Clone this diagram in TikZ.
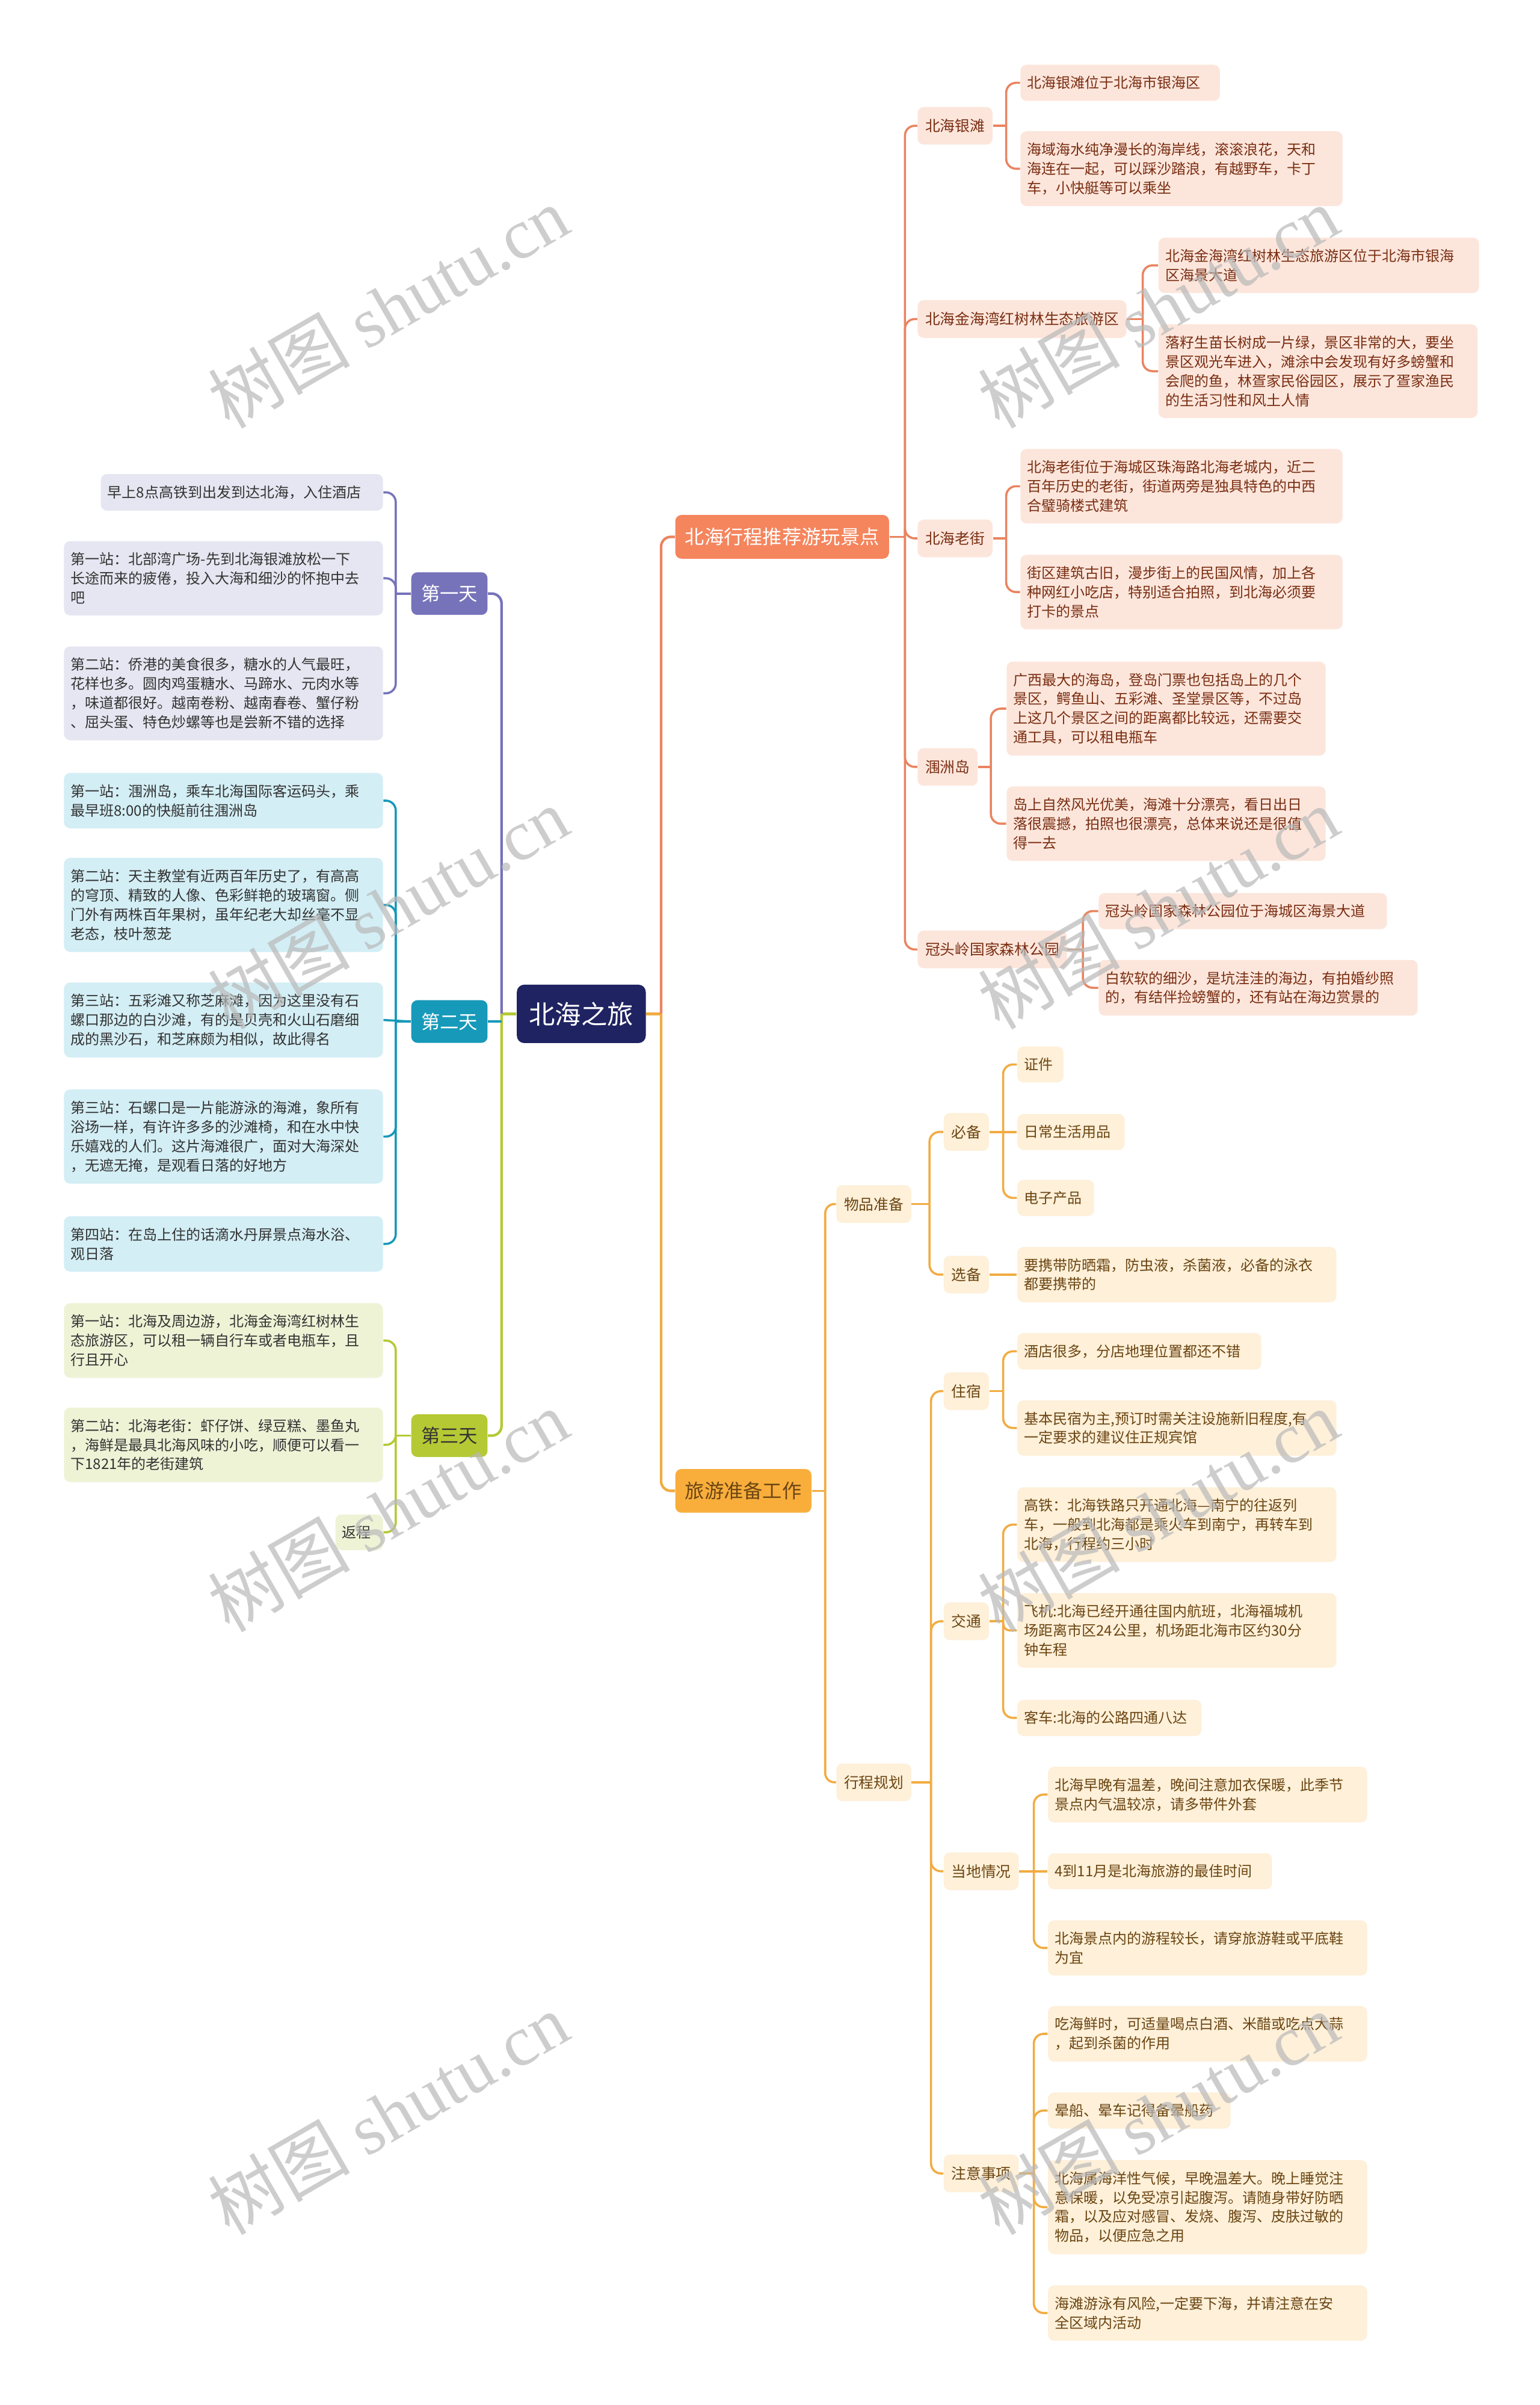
\documentclass[tikz,border=0pt]{standalone}
\usepackage{fontspec}
\setmainfont{Noto Sans CJK SC}
\newfontfamily\wmserif{Liberation Serif}
\definecolor{cRoot}{HTML}{1F2361}
\definecolor{cD1}{HTML}{7673BA}
\definecolor{cD1l}{HTML}{E6E6F2}
\definecolor{cD2}{HTML}{1799B9}
\definecolor{cD2l}{HTML}{D3EEF5}
\definecolor{cD3}{HTML}{B5C934}
\definecolor{cD3l}{HTML}{EFF3D6}
\definecolor{cG1}{HTML}{F5855D}
\definecolor{cG1line}{HTML}{EA8460}
\definecolor{cG1l}{HTML}{FCE6DC}
\definecolor{cG1t}{HTML}{7A2E12}
\definecolor{cG2}{HTML}{F9AE3C}
\definecolor{cG2line}{HTML}{F1AC42}
\definecolor{cG2l}{HTML}{FEF0D9}
\definecolor{cG2t}{HTML}{6B4512}
\definecolor{cText}{HTML}{333333}
\newcommand\fanR[5][1.6mm]{%
  \draw[#2] (#3.east) -- (#3.east -| #4);
  \foreach \c in {#5}{\draw[#2,rounded corners=#1] (#3.east -| #4) |- (\c.west);}%
}
\newcommand\fanL[5][1.6mm]{%
  \draw[#2] (#3.west) -- (#3.west -| #4);
  \foreach \c in {#5}{\draw[#2,rounded corners=#1] (#3.west -| #4) |- (\c.east);}%
}
\begin{document}
\begin{tikzpicture}[x=0.25mm,y=-0.25mm,
  box/.style={rounded corners=1mm, inner xsep=1.1mm, inner ysep=1.85mm, align=left, font=\fontsize{6.7}{8.9}\selectfont},
  subbox/.style={rounded corners=1mm, inner xsep=1.25mm, inner ysep=1.95mm, font=\fontsize{6.9}{8.9}\selectfont},
  lfD1/.style={box, fill=cD1l, text=cText, anchor=east},
  lfD2/.style={box, fill=cD2l, text=cText, anchor=east},
  lfD3/.style={box, fill=cD3l, text=cText, anchor=east},
  lfG1/.style={box, fill=cG1l, text=cG1t, anchor=west},
  lfG2/.style={box, fill=cG2l, text=cG2t, anchor=west},
  sbG1/.style={subbox, fill=cG1l, text=cG1t, anchor=west},
  sbG2/.style={subbox, fill=cG2l, text=cG2t, anchor=west},
  daybox/.style={rounded corners=1mm, inner xsep=1.6mm, inner ysep=2.05mm, font=\fontsize{8.75}{10}\selectfont},
  mainbox/.style={rounded corners=1mm, inner xsep=1.6mm, inner ysep=2.1mm, font=\fontsize{9}{10}\selectfont, anchor=west},
  rootbox/.style={rounded corners=1.2mm, inner xsep=2mm, inner ysep=2.8mm, font=\fontsize{12.1}{14}\selectfont, fill=cRoot, text=white},
  ln/.style={line width=0.35mm},
  lnm/.style={line width=0.42mm},
  lnD1/.style={ln, draw=cD1},
  lnD2/.style={ln, draw=cD2},
  lnD3/.style={ln, draw=cD3},
  lnG1/.style={ln, draw=cG1line},
  lnG2/.style={ln, draw=cG2line},
  wm/.style={text=gray!55, opacity=0.7, rotate=30, font=\fontsize{33}{36}\selectfont}
]
\fill[white] (0,0) rectangle (1004,1568);
\useasboundingbox (0,0) rectangle (1004,1568);

% trunk x positions
\coordinate (tL) at (327,0);
\coordinate (tLd) at (258,0);
\coordinate (tR) at (431,0);
\coordinate (tM1) at (590,0);
\coordinate (tM2) at (538,0);
\coordinate (t11) at (656,0);
\coordinate (t12) at (745,0);
\coordinate (t13) at (656,0);
\coordinate (t14) at (646,0);
\coordinate (t15) at (706,0);
\coordinate (t21) at (606,0);
\coordinate (t211) at (654,0);
\coordinate (t22) at (607,0);
\coordinate (t221) at (654,0);
\coordinate (t222) at (654,0);
\coordinate (t223) at (674,0);
\coordinate (t224) at (674,0);

% root
\node[rootbox] (root) at (379,661) {北海之旅};

% days
\node[daybox, fill=cD1, text=white] (d1) at (293,387) {第一天};
\node[daybox, fill=cD2, text=white] (d2) at (293,666) {第二天};
\node[daybox, fill=cD3, text=cText] (d3) at (293,936) {第三天};

% day 1 leaves
\node[lfD1, text width=43.8mm] (l1a) at (250,321) {早上8点高铁到出发到达北海，入住酒店};
\node[lfD1, text width=49.8mm] (l1b) at (250,377) {第一站：北部湾广场-先到北海银滩放松一下\\长途而来的疲倦，投入大海和细沙的怀抱中去\\吧};
\node[lfD1, text width=49.8mm] (l1c) at (250,452) {第二站：侨港的美食很多，糖水的人气最旺，\\花样也多。圆肉鸡蛋糖水、马蹄水、元肉水等\\，味道都很好。越南卷粉、越南春卷、蟹仔粉\\、屈头蛋、特色炒螺等也是尝新不错的选择};

% day 2 leaves
\node[lfD2, text width=49.8mm] (l2a) at (250,522) {第一站：涠洲岛，乘车北海国际客运码头，乘\\最早班8:00的快艇前往涠洲岛};
\node[lfD2, text width=49.8mm] (l2b) at (250,590) {第二站：天主教堂有近两百年历史了，有高高\\的穹顶、精致的人像、色彩鲜艳的玻璃窗。侧\\门外有两株百年果树，虽年纪老大却丝毫不显\\老态，枝叶葱茏};
\node[lfD2, text width=49.8mm] (l2c) at (250,665) {第三站：五彩滩又称芝麻滩，因为这里没有石\\螺口那边的白沙滩，有的是贝壳和火山石磨细\\成的黑沙石，和芝麻颇为相似，故此得名};
\node[lfD2, text width=49.8mm] (l2d) at (250,741) {第三站：石螺口是一片能游泳的海滩，象所有\\浴场一样，有许许多多的沙滩椅，和在水中快\\乐嬉戏的人们。这片海滩很广，面对大海深处\\，无遮无掩，是观看日落的好地方};
\node[lfD2, text width=49.8mm] (l2e) at (250,811) {第四站：在岛上住的话滴水丹屏景点海水浴、\\观日落};

% day 3 leaves
\node[lfD3, text width=49.8mm] (l3a) at (250,874) {第一站：北海及周边游，北海金海湾红树林生\\态旅游区，可以租一辆自行车或者电瓶车，且\\行且开心};
\node[lfD3, text width=49.8mm] (l3b) at (250,942) {第二站：北海老街：虾仔饼、绿豆糕、墨鱼丸\\，海鲜是最具北海风味的小吃，顺便可以看一\\下1821年的老街建筑};
\node[lfD3, text width=5.55mm] (l3c) at (250,999) {返程};

% main right branches
\node[mainbox, fill=cG1, text=white] (m1) at (440,350) {北海行程推荐游玩景点};
\node[mainbox, fill=cG2, text=cG2t] (m2) at (440,972) {旅游准备工作};

% group 1 level 2
\node[sbG1] (s11) at (598,82) {北海银滩};
\node[sbG1] (s12) at (598,208) {北海金海湾红树林生态旅游区};
\node[sbG1] (s13) at (598,351) {北海老街};
\node[sbG1] (s14) at (598,500) {涠洲岛};
\node[sbG1] (s15) at (598,619) {冠头岭国家森林公园};

% group 1 leaves
\node[lfG1, text width=30.3mm] (r11a) at (665,54) {北海银滩位于北海市银海区};
\node[lfG1, text width=50.3mm] (r11b) at (665,110) {海域海水纯净漫长的海岸线，滚滚浪花，天和\\海连在一起，可以踩沙踏浪，有越野车，卡丁\\车，小快艇等可以乘坐};
\node[lfG1, text width=50.05mm] (r12a) at (755,173) {北海金海湾红树林生态旅游区位于北海市银海\\区海景大道};
\node[lfG1, text width=49.8mm] (r12b) at (755,242) {落籽生苗长树成一片绿，景区非常的大，要坐\\景区观光车进入，滩涂中会发现有好多螃蟹和\\会爬的鱼，林疍家民俗园区，展示了疍家渔民\\的生活习性和风土人情};
\node[lfG1, text width=50.3mm] (r13a) at (665,317) {北海老街位于海城区珠海路北海老城内，近二\\百年历史的老街，街道两旁是独具特色的中西\\合璧骑楼式建筑};
\node[lfG1, text width=50.3mm] (r13b) at (665,386) {街区建筑古旧，漫步街上的民国风情，加上各\\种网红小吃店，特别适合拍照，到北海必须要\\打卡的景点};
\node[lfG1, text width=49.8mm] (r14a) at (656,462) {广西最大的海岛，登岛门票也包括岛上的几个\\景区，鳄鱼山、五彩滩、圣堂景区等，不过岛\\上这几个景区之间的距离都比较远，还需要交\\通工具，可以租电瓶车};
\node[lfG1, text width=49.8mm] (r14b) at (656,537) {岛上自然风光优美，海滩十分漂亮，看日出日\\落很震撼，拍照也很漂亮，总体来说还是很值\\得一去};
\node[lfG1, text width=44.8mm] (r15a) at (716,594) {冠头岭国家森林公园位于海城区海景大道};
\node[lfG1, text width=49.8mm] (r15b) at (716,644) {白软软的细沙，是坑洼洼的海边，有拍婚纱照\\的，有结伴捡螃蟹的，还有站在海边赏景的};

% group 2 level 2 / 3
\node[sbG2] (s21) at (545,785) {物品准备};
\node[sbG2] (s22) at (545,1162) {行程规划};
\node[sbG2] (s211) at (615,738) {必备};
\node[sbG2] (s212) at (615,831) {选备};
\node[sbG2] (s221) at (615,907) {住宿};
\node[sbG2] (s222) at (615,1057) {交通};
\node[sbG2] (s223) at (615,1220) {当地情况};
\node[sbG2] (s224) at (615,1417) {注意事项};

% group 2 leaves
\node[lfG2, text width=5.3mm] (g1) at (663,694) {证件};
\node[lfG2, text width=15.3mm] (g2) at (663,738) {日常生活用品};
\node[lfG2, text width=10.3mm] (g3) at (663,781) {电子产品};
\node[lfG2, text width=49.8mm] (g4) at (663,831) {要携带防晒霜，防虫液，杀菌液，必备的泳衣\\都要携带的};
\node[lfG2, text width=37.55mm] (h1) at (663,881) {酒店很多，分店地理位置都还不错};
\node[lfG2, text width=49.8mm] (h2) at (663,931) {基本民宿为主,预订时需关注设施新旧程度,有\\一定要求的建议住正规宾馆};
\node[lfG2, text width=49.8mm] (j1) at (663,994) {高铁：北海铁路只开通北海—南宁的往返列\\车，一般到北海都是乘火车到南宁，再转车到\\北海，行程约三小时};
\node[lfG2, text width=49.8mm] (j2) at (663,1063) {飞机:北海已经开通往国内航班，北海福城机\\场距离市区24公里，机场距北海市区约30分\\钟车程};
\node[lfG2, text width=27.8mm] (j3) at (663,1120) {客车:北海的公路四通八达};
\node[lfG2, text width=49.8mm] (k1) at (683,1170) {北海早晚有温差，晚间注意加衣保暖，此季节\\景点内气温较凉，请多带件外套};
\node[lfG2, text width=34.3mm] (k2) at (683,1220) {4到11月是北海旅游的最佳时间};
\node[lfG2, text width=49.8mm] (k3) at (683,1270) {北海景点内的游程较长，请穿旅游鞋或平底鞋\\为宜};
\node[lfG2, text width=49.8mm] (n1) at (683,1326) {吃海鲜时，可适量喝点白酒、米醋或吃点大蒜\\，起到杀菌的作用};
\node[lfG2, text width=27.55mm] (n2) at (683,1376) {晕船、晕车记得备晕船药};
\node[lfG2, text width=49.8mm] (n3) at (683,1439) {北海属海洋性气候，早晚温差大。晚上睡觉注\\意保暖，以免受凉引起腹泻。请随身带好防晒\\霜，以及应对感冒、发烧、腹泻、皮肤过敏的\\物品，以便应急之用};
\node[lfG2, text width=49.8mm] (n4) at (683,1508) {海滩游泳有风险,一定要下海，并请注意在安\\全区域内活动};

% ---- connectors: left side
\draw[lnm, draw=cD3] (root.west) -- (root.west -| tL);
\draw[lnm, draw=cD1, rounded corners=1.6mm] (root.west -| tL) |- (d1.east);
\draw[lnm, draw=cD3, rounded corners=1.6mm] (root.west -| tL) |- (d3.east);
\draw[lnm, draw=cD2] (d2.east) -- (d2.east -| tL);
\fanL{lnD1}{d1}{tLd}{l1a,l1b,l1c}
\draw[lnD2] (d2.west) -- (l2c.east);
\fanL{lnD2}{d2}{tLd}{l2a,l2b,l2d,l2e}
\fanL{lnD3}{d3}{tLd}{l3a,l3b,l3c}

% ---- connectors: right side
\draw[lnm, draw=cG2line] (root.east) -- (root.east -| tR);
\draw[lnm, draw=cG1line, rounded corners=1.6mm] (root.east -| tR) |- (m1.west);
\draw[lnm, draw=cG2line, rounded corners=1.6mm] (root.east -| tR) |- (m2.west);
\fanR{lnG1}{m1}{tM1}{s11,s12,s13,s14,s15}
\fanR{lnG1}{s11}{t11}{r11a,r11b}
\fanR{lnG1}{s12}{t12}{r12a,r12b}
\fanR{lnG1}{s13}{t13}{r13a,r13b}
\fanR{lnG1}{s14}{t14}{r14a,r14b}
\fanR{lnG1}{s15}{t15}{r15a,r15b}
\fanR[1.5mm]{lnG2}{m2}{tM2}{s21,s22}
\fanR{lnG2}{s21}{t21}{s211,s212}
\draw[lnG2] (s211.east) -- (g2.west);
\fanR{lnG2}{s211}{t211}{g1,g3}
\draw[lnG2] (s212.east) -- (g4.west);
\fanR{lnG2}{s22}{t22}{s221,s222,s223,s224}
\fanR{lnG2}{s221}{t221}{h1,h2}
\fanR{lnG2}{s222}{t222}{j1,j3}
\draw[lnG2, rounded corners=1.1mm] (s222.east -| t222) |- (j2.west);
\draw[lnG2] (s223.east) -- (k2.west);
\fanR{lnG2}{s223}{t223}{k1,k3}
\fanR{lnG2}{s224}{t224}{n1,n2,n3,n4}

% ---- watermarks
\foreach \wx in {253,755}{
  \foreach \wy in {200,592,985,1378}{
    \node[wm] at (\wx,\wy) {树图 {\wmserif shutu.cn}};
  }
}
\end{tikzpicture}
\end{document}
